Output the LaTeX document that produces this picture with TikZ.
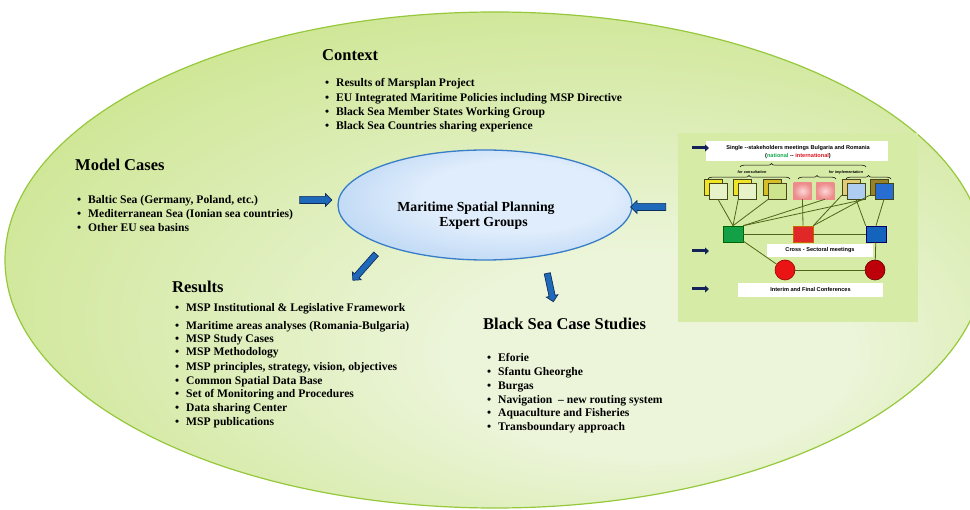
\documentclass[tikz,border=0pt]{standalone}
\usepackage{fontspec}
\setmainfont{Liberation Serif}
\newfontfamily\panelfont{Liberation Sans}
\usetikzlibrary{shapes.arrows,shapes.geometric,decorations.pathreplacing,arrows.meta,calc}

\definecolor{bgin}{RGB}{236,245,218}
\definecolor{bgmid}{RGB}{206,230,148}
\definecolor{bgout}{RGB}{174,211,88}
\definecolor{bgline}{RGB}{150,200,60}
\definecolor{mspin}{RGB}{224,237,252}
\definecolor{mspout}{RGB}{145,188,235}
\definecolor{mspline}{RGB}{55,125,200}
\definecolor{arrowblue}{RGB}{30,105,185}
\definecolor{arrowline}{RGB}{15,45,90}
\definecolor{panelgreen}{RGB}{214,235,165}
\definecolor{lineolive}{RGB}{80,100,25}
\definecolor{navy}{RGB}{20,35,90}
\definecolor{boxline}{RGB}{70,70,25}
\definecolor{byellow}{RGB}{240,228,40}
\definecolor{bdyellow}{RGB}{215,190,40}
\definecolor{btan}{RGB}{225,205,120}
\definecolor{bolive}{RGB}{150,130,40}
\definecolor{bpale}{RGB}{232,242,200}
\definecolor{blime}{RGB}{205,228,140}
\definecolor{pinkL}{RGB}{252,215,215}
\definecolor{pinkD}{RGB}{238,140,140}
\definecolor{lblue}{RGB}{175,205,240}
\definecolor{dblue}{RGB}{40,110,210}
\definecolor{sqgreen}{RGB}{20,160,70}
\definecolor{sqred}{RGB}{225,40,40}
\definecolor{sqblue}{RGB}{20,100,190}
\definecolor{cred}{RGB}{235,20,20}
\definecolor{cdred}{RGB}{190,0,10}
\definecolor{natgreen}{RGB}{20,170,80}
\definecolor{intred}{RGB}{220,20,30}

\pgfdeclareradialshading{bigshade}{\pgfpoint{10bp}{-12bp}}{color(0bp)=(bgin); color(10bp)=(bgin); color(32bp)=(bgmid); color(50bp)=(bgout)}
\pgfdeclareradialshading{mspshade}{\pgfpoint{8bp}{6bp}}{color(0bp)=(mspin); color(16bp)=(mspin); color(50bp)=(mspout)}

\newcommand{\mybullet}{\llap{\textbullet\hspace{7pt}}}

\tikzset{
  head/.style={anchor=base west, inner sep=0pt, font=\fontsize{16.5}{18}\selectfont\bfseries},
  item/.style={anchor=base west, inner sep=0pt, font=\fontsize{11.6}{13}\selectfont\bfseries},
  msptxt/.style={anchor=base, inner sep=0pt, font=\fontsize{13.8}{15}\selectfont\bfseries},
  blockarrow/.style={single arrow, draw=arrowline, fill=arrowblue, line width=0.7pt,
     single arrow head extend=2.8pt, single arrow head indent=0pt, inner sep=0pt},
  pbox/.style={draw=boxline, line width=0.5pt, minimum width=18pt, minimum height=16pt, inner sep=0pt},
  sqbox/.style={line width=0.6pt, minimum width=20pt, minimum height=16pt, inner sep=0pt},
  circnode/.style={circle, minimum size=20pt, inner sep=0pt, line width=0.6pt},
  wbox/.style={fill=white, inner sep=0pt},
  plink/.style={draw=lineolive, line width=0.8pt},
  ptext/.style={inner sep=0pt, font=\panelfont\bfseries\fontsize{5.6}{6.5}\selectfont},
  btext/.style={inner sep=0pt, font=\panelfont\bfseries\itshape\fontsize{3.8}{4}\selectfont},
  smallarrow/.style={draw=navy, line width=3pt, -{Triangle[length=4pt,width=7pt]}},
  bracestyle/.style={draw=black, line width=0.5pt, decorate, decoration={brace, amplitude=3.5pt}}
}

\begin{document}
\begin{tikzpicture}[x=1pt,y=-1pt]
\useasboundingbox (0,0) rectangle (970,510);
\begin{scope}
\clip (0,0) rectangle (970,510);
\node[ellipse, draw=bgline, line width=1.2pt, shade, shading=bigshade,
      minimum width=980pt, minimum height=496pt, inner sep=0pt] (world) at (495,260) {};
\end{scope}

% central ellipse
\node[ellipse, draw=mspline, line width=1.3pt, shade, shading=mspshade,
      minimum width=294pt, minimum height=110pt, inner sep=0pt] (msp) at (485,205) {};
\node[msptxt] (msp1) at (476,212) {Maritime Spatial Planning};
\node[msptxt] (msp2) at (483.5,227) {Expert Groups};

% block arrows
\node[blockarrow, minimum height=32pt] (arL) at (314,200) {\rule{0pt}{6.5pt}};
\node[blockarrow, minimum height=35pt, rotate=180] (arR) at (650,207) {\rule{0pt}{6.5pt}};
\node[blockarrow, minimum height=35pt, rotate=228.5] (arDL) at (365.5,266) {\rule{0pt}{5.5pt}};
\node[blockarrow, minimum height=29pt, rotate=282] (arD) at (550,286) {\rule{0pt}{5.5pt}};

% Context
\node[head] (ctx) at (322,60.5) {Context};
\node[item] (ctx1) at (336,86.5) {\mybullet Results of Marsplan Project};
\node[item] (ctx2) at (336,101.5) {\mybullet EU Integrated Maritime Policies including MSP Directive};
\node[item] (ctx3) at (336,115.5) {\mybullet Black Sea Member States Working Group};
\node[item] (ctx4) at (336,129.5) {\mybullet Black Sea Countries sharing experience};

% Model cases
\node[head] (mod) at (75,170.5) {Model Cases};
\node[item] (mod1) at (88,203.5) {\mybullet Baltic Sea (Germany, Poland, etc.)};
\node[item] (mod2) at (88,217.5) {\mybullet Mediterranean Sea (Ionian sea countries)};
\node[item] (mod3) at (88,231.5) {\mybullet Other EU sea basins};

% Results
\node[head] (res) at (172,292.5) {Results};
\node[item] (res1) at (186,311.5) {\mybullet MSP Institutional \& Legislative Framework};
\node[item] (res2) at (186,329.5) {\mybullet Maritime areas analyses (Romania-Bulgaria)};
\node[item] (res3) at (186,342.5) {\mybullet MSP Study Cases};
\node[item] (res4) at (186,355.5) {\mybullet MSP Methodology};
\node[item] (res5) at (186,370.5) {\mybullet MSP principles, strategy, vision, objectives};
\node[item] (res6) at (186,384.5) {\mybullet Common Spatial Data Base};
\node[item] (res7) at (186,397.5) {\mybullet Set of Monitoring and Procedures};
\node[item] (res8) at (186,411.5) {\mybullet Data sharing Center};
\node[item] (res9) at (186,425.5) {\mybullet MSP publications};

% Black Sea case studies
\node[head] (bsc) at (483,329.5) {Black Sea Case Studies};
\node[item] (bsc1) at (498,361.5) {\mybullet Eforie};
\node[item] (bsc2) at (498,375.5) {\mybullet Sfantu Gheorghe};
\node[item] (bsc3) at (498,389.5) {\mybullet Burgas};
\node[item] (bsc4) at (498,403.5) {\mybullet Navigation\enspace -- new routing system};
\node[item] (bsc5) at (498,416.5) {\mybullet Aquaculture and Fisheries};
\node[item] (bsc6) at (498,430.5) {\mybullet Transboundary approach};

% ---------- right panel ----------
\node[fill=panelgreen, minimum width=240pt, minimum height=189pt, inner sep=0pt] (panel) at (798,227.5) {};
\node[wbox, minimum width=182pt, minimum height=20pt] (titlebox) at (797,151) {};
\node[ptext, anchor=base] (t1) at (798,150) {Single --stakeholders meetings Bulgaria and Romania};
\node[ptext, anchor=base] (t2) at (798,158) {(\textcolor{natgreen}{national} -- \textcolor{intred}{international})};

\coordinate (sa1s) at (692,148);
\coordinate (sa1e) at (709,148);
\coordinate (sa2s) at (692,251);
\coordinate (sa2e) at (709,251);
\coordinate (sa3s) at (692,289);
\coordinate (sa3e) at (709,289);
\draw[smallarrow] (sa1s) -- (sa1e);
\draw[smallarrow] (sa2s) -- (sa2e);
\draw[smallarrow] (sa3s) -- (sa3e);

% braces
\draw[bracestyle, decoration={aspect=0.25}] (740,167) -- (866,167);
\draw[bracestyle] (708,179) -- (790,179);
\draw[bracestyle] (798,179) -- (836,179);
\draw[bracestyle] (846,179) -- (891,179);
\node[btext] (lcons) at (752,172.5) {for consultation};
\node[btext] (limpl) at (846,172.5) {for implementation};

% white label boxes
\node[wbox, ptext, minimum width=106pt, minimum height=13pt] (cross) at (820,250.5) {Cross - Sectoral meetings};
\node[wbox, ptext, minimum width=145pt, minimum height=14pt] (interim) at (810.5,290) {Interim and Final Conferences};

% stakeholder boxes
\node[pbox, fill=byellow] (b1back) at (713,187) {};
\node[pbox, fill=byellow] (b2back) at (742.5,187) {};
\node[pbox, fill=bdyellow] (b3back) at (772.5,187) {};
\node[pbox, fill=btan] (b6back) at (851,187) {};
\node[pbox, fill=bolive] (b7back) at (879,187) {};
\node[pbox, fill=bpale] (b1) at (718,191) {};
\node[pbox, fill=bpale] (b2) at (747.5,191) {};
\node[pbox, fill=blime] (b3) at (777.5,191) {};
\node[pbox, draw=pinkD, inner color=pinkL, outer color=pinkD] (b4) at (802.5,191) {};
\node[pbox, draw=pinkD, inner color=pinkL, outer color=pinkD] (b5) at (825,191) {};
\node[pbox, fill=lblue] (b6) at (856,191) {};
\node[pbox, fill=dblue] (b7) at (884,191) {};

% sector squares and conference circles
\node[sqbox, fill=sqgreen, draw=green!40!black] (G) at (733,234) {};
\node[sqbox, fill=sqred, draw=orange!80!black] (R) at (803,234) {};
\node[sqbox, fill=sqblue, draw=blue!40!black] (B) at (876,234) {};
\node[circnode, fill=cred, draw=red!60!black] (C1) at (785,270) {};
\node[circnode, fill=cdred, draw=red!40!black] (C2) at (875,270) {};

% links
\draw[plink] (G.north) -- (b1.south);
\draw[plink] (G.north) -- (b2.south west);
\draw[plink] (G.north) -- (b3.south west);
\draw[plink] (G.north east) -- (b5.south);
\draw[plink] (G.north east) -- (b6.south east);
\draw[plink] (R.north) -- (b4.south);
\draw[plink] (R.north east) -- (b6back.south west);
\draw[plink] (R.north east) -- (b7back.south west);
\draw[plink] (B.north west) -- (b6.south);
\draw[plink] (B.north) -- (b7.south);
\draw[plink] (G) -- (R);
\draw[plink] (R) -- (B);
\draw[plink] (G) -- (C1);
\draw[plink] (C1) -- (C2);
\draw[plink] (B) -- (C2);
\end{tikzpicture}
\end{document}
